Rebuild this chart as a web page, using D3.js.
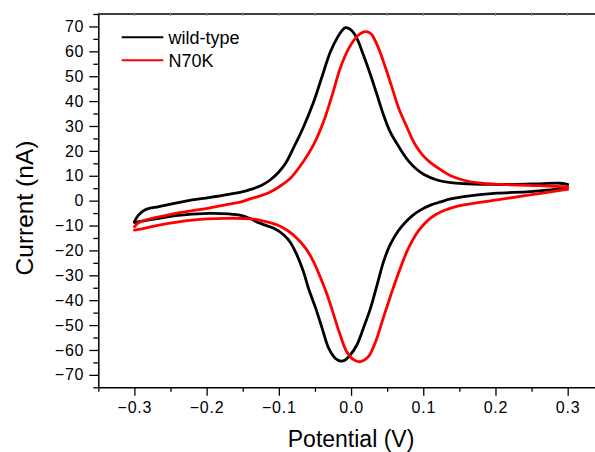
<!DOCTYPE html>
<html><head><meta charset="utf-8">
<script src="https://cdn.jsdelivr.net/npm/d3@7"></script>
<style>
html,body{margin:0;padding:0;background:#fff;}
svg{display:block;font-family:"Liberation Sans",Arial,sans-serif;}
</style></head>
<body><svg id="c" width="595" height="452"></svg>
<script>
// ---- data (potential V, current nA) ----
const seriesNames = ["wild-type", "N70K"];
const seriesColors = ["#000000", "#ff0000"];

const wtAnodic = [[-0.300,-8.5],[-0.295,-6.0],[-0.285,-3.7],[-0.266,-2.4],[-0.243,-1.0],[-0.220,0.3],[-0.197,1.2],[-0.174,2.3],[-0.151,3.5],[-0.139,4.5],[-0.125,6.0],[-0.112,8.3],[-0.100,11.5],[-0.090,15.3],[-0.080,21.0],[-0.066,29.5],[-0.052,39.5],[-0.040,50.0],[-0.029,59.5],[-0.019,65.5],[-0.012,68.5],[-0.008,69.5],[-0.003,69.2],[0.002,68.0],[0.008,65.3],[0.017,58.6],[0.027,50.5],[0.036,42.5],[0.045,34.4],[0.054,27.7],[0.068,20.8],[0.080,15.8],[0.090,12.8],[0.101,10.5],[0.119,8.3],[0.138,7.2],[0.160,6.8],[0.200,6.5],[0.250,6.7],[0.290,7.0],[0.300,6.5]];
const wtCathodic = [[0.300,5.5],[0.294,5.0],[0.248,3.6],[0.202,3.0],[0.156,1.6],[0.138,0.7],[0.124,-0.5],[0.110,-1.8],[0.096,-3.8],[0.085,-6.0],[0.075,-8.8],[0.065,-12.3],[0.054,-17.8],[0.045,-24.5],[0.036,-33.9],[0.027,-43.2],[0.017,-51.3],[0.008,-58.0],[-0.001,-62.0],[-0.008,-64.0],[-0.014,-64.5],[-0.022,-63.3],[-0.031,-59.3],[-0.040,-51.3],[-0.049,-43.2],[-0.059,-35.2],[-0.066,-28.5],[-0.075,-21.8],[-0.084,-16.8],[-0.093,-13.8],[-0.107,-11.1],[-0.126,-9.1],[-0.139,-7.3],[-0.151,-6.0],[-0.170,-5.3],[-0.197,-5.1],[-0.243,-6.0],[-0.266,-7.1],[-0.285,-8.0],[-0.300,-8.8]];
const n70kAnodic = [[-0.300,-10.5],[-0.295,-9.0],[-0.285,-7.8],[-0.266,-6.5],[-0.243,-5.1],[-0.220,-4.0],[-0.197,-3.0],[-0.174,-1.7],[-0.151,-0.4],[-0.139,0.8],[-0.125,2.0],[-0.114,3.2],[-0.100,5.5],[-0.084,9.0],[-0.066,15.7],[-0.052,22.4],[-0.038,31.8],[-0.026,42.5],[-0.015,53.2],[-0.003,61.3],[0.008,65.9],[0.015,67.5],[0.020,67.9],[0.025,67.6],[0.029,66.6],[0.038,61.3],[0.048,53.2],[0.057,45.2],[0.066,37.1],[0.078,29.1],[0.085,24.5],[0.091,21.5],[0.100,18.0],[0.110,15.3],[0.128,11.7],[0.138,10.0],[0.156,8.2],[0.180,7.0],[0.225,6.3],[0.260,6.0],[0.294,5.6],[0.300,5.5]];
const n70kCathodic = [[0.300,4.5],[0.294,4.3],[0.248,2.3],[0.202,0.3],[0.156,-1.7],[0.138,-3.0],[0.124,-4.6],[0.110,-7.0],[0.100,-9.8],[0.090,-13.5],[0.078,-20.0],[0.064,-30.5],[0.052,-40.6],[0.043,-48.6],[0.034,-56.7],[0.024,-62.7],[0.013,-64.7],[0.004,-64.0],[-0.006,-60.7],[-0.015,-54.0],[-0.024,-45.9],[-0.033,-37.9],[-0.042,-31.2],[-0.052,-24.5],[-0.063,-19.1],[-0.075,-15.1],[-0.089,-11.8],[-0.102,-9.8],[-0.121,-8.2],[-0.139,-7.3],[-0.174,-7.1],[-0.220,-7.8],[-0.266,-9.8],[-0.285,-11.0],[-0.300,-11.8]];

const xMajorTicks = [-0.3,-0.2,-0.1,0.0,0.1,0.2,0.3];
const xMinorTicks = [-0.35,-0.25,-0.15,-0.05,0.05,0.15,0.25];
const yMajorTicks = [-70,-60,-50,-40,-30,-20,-10,0,10,20,30,40,50,60,70];
const yMinorTicks = [-75,-65,-55,-45,-35,-25,-15,-5,5,15,25,35,45,55,65,75];
const xLabel = "Potential (V)";
const yLabel = "Current (nA)";

// ---- drawing ----
const svg = d3.select("#c");
const L = 98.3, T = 14, B = 387.3;
const x = d3.scaleLinear().domain([-0.35, 0.35]).range([L, 603.8]);
const y = d3.scaleLinear().domain([-75, 75]).range([B, T]);

const line = d3.line().x(d => x(d[0])).y(d => y(d[1])).curve(d3.curveCatmullRom.alpha(0.5));
const series = [[wtAnodic, wtCathodic], [n70kAnodic, n70kCathodic]];
series.forEach((branches, i) => {
  branches.forEach(b => {
    svg.append("path").attr("d", line(b)).attr("fill", "none")
      .attr("stroke", seriesColors[i]).attr("stroke-width", 2.8)
      .attr("stroke-linejoin", "round").attr("stroke-linecap", "round");
  });
});

// top frame with tiny ticks
svg.append("line").attr("x1", L).attr("x2", 595).attr("y1", T).attr("y2", T)
  .attr("stroke", "#000").attr("stroke-width", 1.5);
svg.selectAll(".tt").data(xMajorTicks.concat(xMinorTicks)).enter().append("line")
  .attr("x1", d => x(d)).attr("x2", d => x(d)).attr("y1", T - 1.5).attr("y2", T + 2)
  .attr("stroke", "#888").attr("stroke-width", 1);

function styleAxis(g) {
  g.select(".domain").attr("stroke", "#000").attr("stroke-width", 1.5);
  g.selectAll(".tick line").attr("stroke", "#000").attr("stroke-width", 1.3);
  g.selectAll("text").attr("font-size", 16).attr("fill", "#000")
    .attr("font-family", "'Liberation Sans',Arial,sans-serif").style("letter-spacing", "0.8px");
}

// x axis
const gxMinor = svg.append("g").attr("transform", `translate(0,${B})`)
  .call(d3.axisBottom(x).tickValues(xMinorTicks).tickSize(4.5).tickFormat(""));
gxMinor.select(".domain").remove();
gxMinor.selectAll(".tick line").attr("stroke", "#000").attr("stroke-width", 1.3);
const gx = svg.append("g").attr("transform", `translate(0,${B})`)
  .call(d3.axisBottom(x).tickValues(xMajorTicks).tickSize(8.5).tickSizeOuter(0).tickPadding(6)
    .tickFormat(d3.format(".1f")));
styleAxis(gx);

// y axis
const gyMinor = svg.append("g").attr("transform", `translate(${L},0)`)
  .call(d3.axisLeft(y).tickValues(yMinorTicks).tickSize(5).tickFormat(""));
gyMinor.select(".domain").remove();
gyMinor.selectAll(".tick line").attr("stroke", "#000").attr("stroke-width", 1.3);
const gy = svg.append("g").attr("transform", `translate(${L},0)`)
  .call(d3.axisLeft(y).tickValues(yMajorTicks).tickSize(9).tickSizeOuter(0).tickPadding(5)
    .tickFormat(d3.format("d")));
styleAxis(gy);

// axis titles
svg.append("text").attr("x", x(0)).attr("y", 446.5).attr("text-anchor", "middle")
  .attr("font-size", 23).text(xLabel);
svg.append("text").attr("transform", "translate(33,208) rotate(-90)").attr("text-anchor", "middle")
  .attr("font-size", 24.5).text(yLabel);

// legend
const leg = svg.append("g");
seriesNames.forEach((name, i) => {
  const ly = 37.3 + i * 23;
  leg.append("line").attr("x1", 121.7).attr("x2", 163.3).attr("y1", ly).attr("y2", ly)
    .attr("stroke", seriesColors[i]).attr("stroke-width", 2);
  leg.append("text").attr("x", 168.5).attr("y", ly + 6.5).attr("font-size", 18).text(name);
});
</script></body></html>
